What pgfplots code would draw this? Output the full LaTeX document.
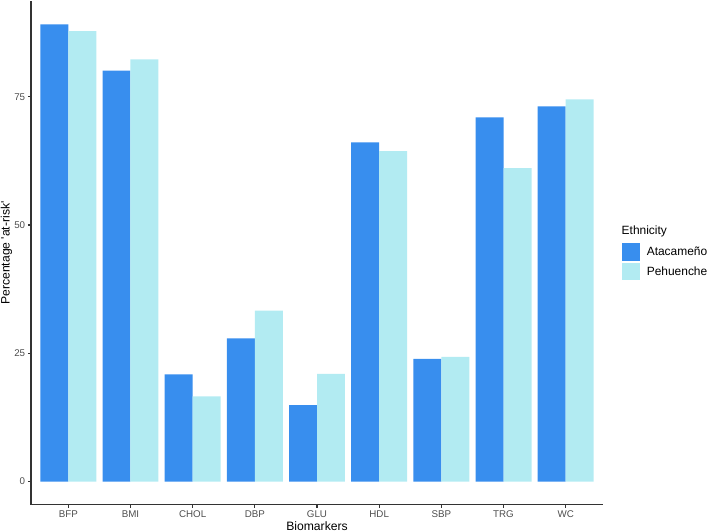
\documentclass[border=0pt]{standalone}
\usepackage{pgfplots}
\pgfplotsset{compat=1.18}
\usepackage{fontspec}
\setmainfont{Liberation Sans}
\definecolor{ata}{HTML}{388EEE}
\definecolor{peh}{HTML}{B2EBF2}
\definecolor{axgray}{HTML}{333333}
\definecolor{tickgray}{HTML}{4D4D4D}
\begin{document}
\begin{tikzpicture}
\path[use as bounding box] (0bp,0bp) rectangle (710bp,532bp);
\begin{axis}[
  at={(31bp,27.5bp)}, anchor=south west,
  scale only axis, width=572bp, height=503bp,
  xmin=0.4, xmax=9.6, ymin=-4.455, ymax=93.555,
  ybar=0pt, bar width=0.45,
  axis lines*=left,
  axis line style={axgray, line width=1.15bp},
  tick align=outside, major tick length=3.05bp,
  tick style={axgray, line width=1.15bp},
  xtick={1,...,9},
  xticklabels={BFP,BMI,CHOL,DBP,GLU,HDL,SBP,TRG,WC},
  ytick={0,25,50,75},
  /pgf/number format/assume math mode=true,
  ticklabel style={font=\fontsize{9.8}{11}\selectfont, text=tickgray},
  xticklabel style={inner sep=0pt, yshift=-2.6bp, anchor=north},
  yticklabel style={inner sep=0pt, xshift=-2.6bp, anchor=east},
  xlabel={Biomarkers}, ylabel={Percentage \textquotesingle at-risk\textquotesingle},
  label style={font=\fontsize{12.2}{14}\selectfont},
  xlabel style={at={(axis description cs:0.5,0)}, anchor=south, yshift=-26.6bp, inner sep=0pt},
  ylabel style={at={(axis description cs:0,0.5)}, anchor=north, rotate=0, yshift=30.4bp, inner sep=0pt},
  legend style={draw=none, fill=none, at={(axis description cs:1.0332,0.5193)}, anchor=north west,
    inner sep=0pt, row sep=1.9bp, font=\fontsize{12}{14}\selectfont,
    nodes={inner sep=0pt, anchor=west}},
  legend cell align=left,
  legend image code/.code={\fill[#1] (0bp,-8.7bp) rectangle (17.6bp,8.7bp); \path (24.6bp,0bp);},
]
\addplot[fill=ata, draw=none] coordinates {
(1,89.1) (2,80.1) (3,20.9) (4,27.9) (5,14.9) (6,66.1) (7,23.9) (8,71.0) (9,73.1)
};
\addplot[fill=peh, draw=none] coordinates {
(1,87.8) (2,82.3) (3,16.6) (4,33.3) (5,21.0) (6,64.4) (7,24.3) (8,61.1) (9,74.5)
};
\legend{Atacameño,Pehuenche}
\end{axis}
\node[anchor=west, inner sep=0pt, font=\fontsize{12}{14}\selectfont] at (621.5bp,300.3bp) {Ethnicity};
\end{tikzpicture}
\end{document}
